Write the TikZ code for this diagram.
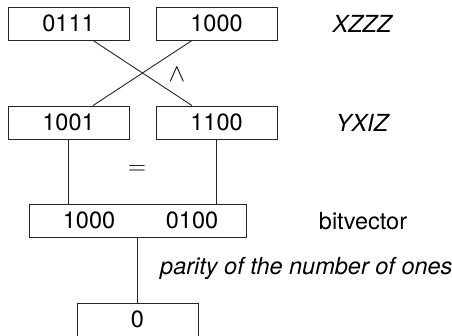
\documentclass[tikz,border=0pt]{standalone}
\usepackage{fontspec}
\setmainfont{TeX Gyre Heros}
\begin{document}
\begin{tikzpicture}[x=1pt,y=-1pt,
  box/.style={draw=black!85,line width=0.9pt,minimum width=121pt,minimum height=33pt,inner sep=0pt,font=\fontsize{23.5}{28}\selectfont},
  txt/.style={inner sep=0pt,font=\fontsize{23.5}{28}\selectfont},
  itxt/.style={inner sep=0pt,font=\fontsize{23.5}{28}\selectfont\itshape},
  conn/.style={draw=black!85,line width=0.9pt}]
\useasboundingbox (0,0) rectangle (452,335);
\node[box] (a) at (68.5,23.5) {0111};
\node[box] (b) at (216.5,23.5) {1000};
\node[box] (c) at (68.5,122.5) {1001};
\node[box] (d) at (216.5,122.5) {1100};
\node[box,minimum width=217pt] (e) at (137.5,220.5) {};
\node[txt] (e1) at (89,220.5) {1000};
\node[txt] (e2) at (192,220.5) {0100};
\node[box] (f) at (137.5,319.5) {0};
\node[txt,font=\fontsize{26}{30}\selectfont] (and) at (177,75) {$\wedge$};
\node[txt,font=\fontsize{26}{30}\selectfont] (eq) at (137,170) {$=$};
\node[itxt] (l1) at (362,24) {XZZZ};
\node[itxt] (l2) at (362,123) {YXIZ};
\node[txt] (l3) at (363,221) {bitvector};
\node[itxt,anchor=west] (l4) at (160,268) {parity of the number of ones};
\draw[conn] ([xshift=24.5pt]a.south) -- ([xshift=-24.5pt]d.north);
\draw[conn] ([xshift=-24.5pt]b.south) -- ([xshift=24.5pt]c.north);
\draw[conn] (c.south) -- (c.south |- e.north);
\draw[conn] (d.south) -- (d.south |- e.north);
\draw[conn] (e.south) -- (f.north);
\end{tikzpicture}
\end{document}
